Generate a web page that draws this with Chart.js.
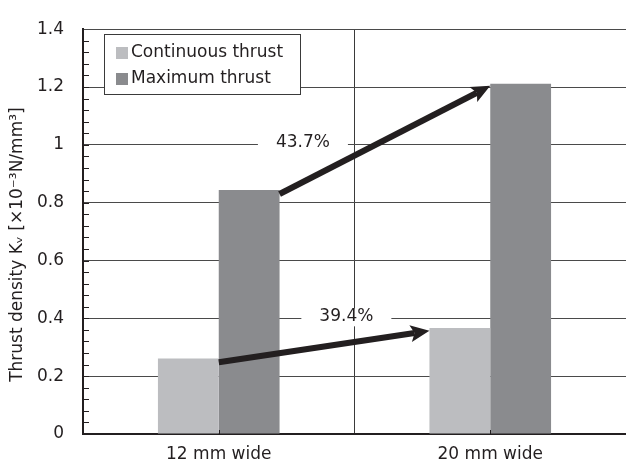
<!DOCTYPE html>
<html>
<head>
<meta charset="utf-8">
<script src="https://cdn.jsdelivr.net/npm/chart.js@4.4.1/dist/chart.umd.min.js"></script>
<style>
  body { margin: 0; background: #fff; }
  #wrap { width: 626px; height: 468px; }
</style>
</head>
<body>
<div id="wrap"><canvas id="thrustChart"></canvas></div>
<script>
const categories = ['12 mm wide', '20 mm wide']
const continuousThrust = [0.261, 0.367]
const maximumThrust = [0.844, 1.211]
const yTickLabels = ['0', '0.2', '0.4', '0.6', '0.8', '1', '1.2', '1.4']
const yTitle = 'Thrust density Kᵥ [×10⁻³N/mm³]'

// arrows from the 12 mm bars to the 20 mm bars (one per series)
const arrowLabels = ['39.4%', '43.7%']
const arrowFrom = [0.248, 0.830]
const arrowTo = [0.357, 1.204]
const arrowLabelValue = [0.4, 1.0]
const arrowLabelAt = [0.47, 0.31]   // share of the way from first to second category

const textColor = '#231f20'
const fontFamily = '"DejaVu Sans", sans-serif'

function drawArrow(ctx, x1, y1, x2, y2) {
    const ang = Math.atan2(y2 - y1, x2 - x1)
    const cos = Math.cos(ang), sin = Math.sin(ang)
    const head = 19, half = 8.5, notch = 4

    ctx.lineWidth = 6
    ctx.lineCap = 'butt'
    ctx.beginPath()
    ctx.moveTo(x1, y1)
    ctx.lineTo(x2 - (head - notch) * cos, y2 - (head - notch) * sin)
    ctx.stroke()

    const bx = x2 - head * cos, by = y2 - head * sin
    ctx.beginPath()
    ctx.moveTo(x2, y2)
    ctx.lineTo(bx - half * sin, by + half * cos)
    ctx.lineTo(x2 - (head - notch) * cos, y2 - (head - notch) * sin)
    ctx.lineTo(bx + half * sin, by - half * cos)
    ctx.closePath()
    ctx.fill()
}

const extras = {
    id: 'extras',
    afterDraw(chart) {
        const ctx = chart.ctx
        const xs = chart.scales.x
        const ys = chart.scales.y
        const area = chart.chartArea

        ctx.save()

        // minor ticks on the value axis
        ctx.strokeStyle = textColor
        ctx.lineWidth = 1
        for (let i = 1; i < 35; i++) {
            const py = Math.round(ys.getPixelForValue(i * 0.04)) + 0.5
            ctx.beginPath()
            ctx.moveTo(area.left, py)
            ctx.lineTo(area.left + 6, py)
            ctx.stroke()
        }
        // small marks at the category centres
        categories.forEach((c, i) => {
            const px = Math.round(xs.getPixelForValue(i)) + 0.5
            ctx.beginPath()
            ctx.moveTo(px, area.bottom)
            ctx.lineTo(px, area.bottom - 4)
            ctx.stroke()
        })

        // y axis title, a bit below the centre of the axis like the original
        ctx.font = '17px ' + fontFamily
        ctx.textAlign = 'center'
        ctx.textBaseline = 'middle'
        ctx.fillStyle = textColor
        ctx.save()
        ctx.translate(18, (area.top + area.bottom) / 2 + 13)
        ctx.rotate(-Math.PI / 2)
        ctx.fillText(yTitle, 0, 0)
        ctx.restore()

        // percentage labels on white patches
        arrowLabels.forEach((txt, i) => {
            const x0 = xs.getPixelForValue(0), x1 = xs.getPixelForValue(1)
            const px = x0 + (x1 - x0) * arrowLabelAt[i]
            const py = ys.getPixelForValue(arrowLabelValue[i])
            ctx.fillStyle = '#fff'
            ctx.fillRect(px - 45, py - 10, 90, 18)
            ctx.fillStyle = textColor
            ctx.fillText(txt, px, py - 2)
        })

        // arrows
        ctx.strokeStyle = textColor
        ctx.fillStyle = textColor
        arrowFrom.forEach((v, i) => {
            const bars = chart.getDatasetMeta(i).data
            const sx = bars[0].x + bars[0].width / 2
            const ex = bars[1].x - bars[1].width / 2
            drawArrow(ctx, sx, ys.getPixelForValue(v), ex, ys.getPixelForValue(arrowTo[i]))
        })

        // legend box inside the plot
        const lx = 104.5, ly = 34.5, lw = 196, lh = 60
        ctx.fillStyle = '#fff'
        ctx.fillRect(lx, ly, lw, lh)
        ctx.strokeStyle = '#3a3a3a'
        ctx.lineWidth = 1
        ctx.strokeRect(lx, ly, lw, lh)
        ctx.textAlign = 'left'
        chart.data.datasets.forEach((ds, i) => {
            const rowY = 53 + i * 26
            ctx.fillStyle = ds.backgroundColor
            ctx.fillRect(116, rowY - 6, 12, 12)
            ctx.fillStyle = textColor
            ctx.fillText(ds.label, 131, rowY)
        })

        ctx.restore()
    }
}

const data = {
    labels: categories,
    datasets: [{
        label: 'Continuous thrust',
        data: continuousThrust,
        backgroundColor: '#bcbdc0',
        categoryPercentage: 0.448,
        barPercentage: 1
    }, {
        label: 'Maximum thrust',
        data: maximumThrust,
        backgroundColor: '#8a8b8e',
        categoryPercentage: 0.448,
        barPercentage: 1
    }]
}

const config = {
    type: 'bar',
    data: data,
    options: {
        responsive: true,
        maintainAspectRatio: false,
        animation: false,
        layout: { padding: { top: 11, right: 0, left: 0, bottom: 0 } },
        plugins: {
            legend: { display: false },
            tooltip: { enabled: false }
        },
        scales: {
            x: {
                grid: { offset: true, color: '#3a3a3a', lineWidth: 1, drawTicks: false },
                border: { color: textColor, width: 2 },
                ticks: { color: textColor, font: { family: fontFamily, size: 17 }, padding: 10 },
                afterFit: (scale) => { scale.height = 34 }
            },
            y: {
                min: 0,
                max: 1.4,
                grid: { color: '#4a4a4a', lineWidth: 1, drawTicks: false },
                border: { color: textColor, width: 2 },
                ticks: {
                    stepSize: 0.2,
                    color: textColor,
                    font: { family: fontFamily, size: 17 },
                    padding: 19,
                    callback: (value, index) => yTickLabels[index]
                },
                afterFit: (scale) => { scale.width = 83 }
            }
        }
    },
    plugins: [extras]
}

const thrustChart = new Chart(document.getElementById('thrustChart'), config)
</script>
</body>
</html>
